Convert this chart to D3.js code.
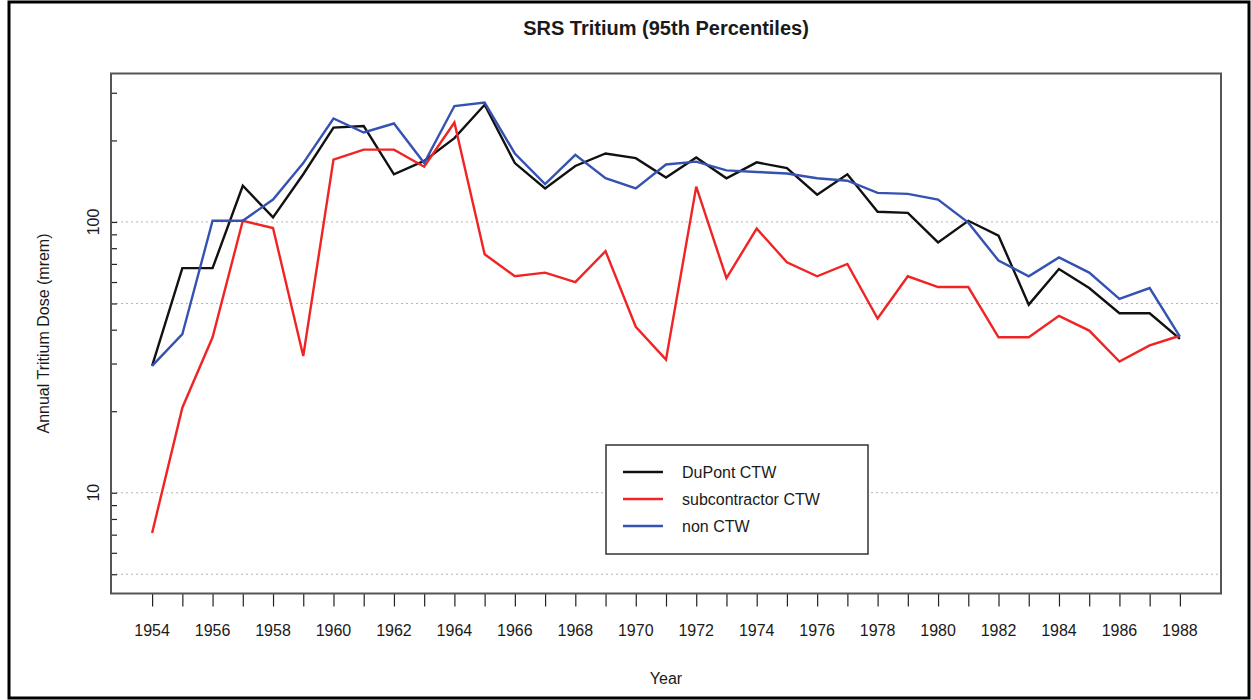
<!DOCTYPE html>
<html>
<head>
<meta charset="utf-8">
<script src="https://cdn.jsdelivr.net/npm/d3@7"></script>
<style>
  body { margin: 0; background: #fff; }
  text { font-family: "Liberation Sans", Arial, sans-serif; fill: #1a1a1a; }
</style>
</head>
<body>
<div class="chart"></div>
<script>
//data
var years = [1954, 1955, 1956, 1957, 1958, 1959, 1960, 1961, 1962, 1963, 1964, 1965,
  1966, 1967, 1968, 1969, 1970, 1971, 1972, 1973, 1974, 1975, 1976, 1977, 1978,
  1979, 1980, 1981, 1982, 1983, 1984, 1985, 1986, 1987, 1988];
var dupontCTW = [29.4, 67.5, 67.5, 136, 104, 150, 223, 226, 150, 168, 204, 271,
  165, 133, 161, 179, 172, 146, 173, 145, 166, 158, 126, 150, 109,
  108, 84, 101, 89, 49.5, 67, 57, 46, 46, 37];
var subcontractorCTW = [7.1, 20.6, 37.5, 101, 95, 32, 170, 185, 185, 160, 233, 76,
  63, 65, 60, 78, 41, 31, 135, 62, 94.5, 71, 63, 70, 44,
  63, 57.5, 57.5, 37.5, 37.5, 45, 39.7, 30.5, 35, 38];
var nonCTW = [29.4, 38.5, 101, 101, 121, 165, 241, 214, 231, 165, 268, 276,
  179, 138, 177, 145, 133, 163, 167, 155, 153, 151, 145, 142, 128,
  127, 121, 99.4, 72, 63, 74, 65, 52, 57, 37.7];
var seriesNames = ['DuPont CTW', 'subcontractor CTW', 'non CTW'];
var xLabelYears = [1954, 1956, 1958, 1960, 1962, 1964, 1966, 1968, 1970, 1972,
  1974, 1976, 1978, 1980, 1982, 1984, 1986, 1988];
var yTicks = [5, 6, 7, 8, 9, 10, 20, 30, 40, 50, 60, 70, 80, 90, 100, 200, 300];
var yLabelTicks = [10, 100];
var yGrid = [5, 10, 50, 100];
var yLimits = [5, 300];

var colors = ['#111111', '#f02424', '#3552b2'];

//canvas
var size = {'x' : 1251, 'y' : 700};
var box = {'left' : 111, 'right' : 1221, 'top' : 73.5, 'bottom' : 593.5};

var svg = d3.select('.chart')
  .append('svg')
    .attr('width', size.x)
    .attr('height', size.y);

//outer frame
svg.append('rect')
  .attr('x', 9)
  .attr('y', 2)
  .attr('width', 1240)
  .attr('height', 696)
  .attr('fill', 'none')
  .attr('stroke', '#000')
  .attr('stroke-width', 3);

//scales, padded like R does (4%)
var xPad = (years[years.length - 1] - years[0]) * 0.04;
var x = d3.scaleLinear()
  .domain([years[0] - xPad, years[years.length - 1] + xPad])
  .range([box.left, box.right]);

var logPad = (Math.log10(yLimits[1]) - Math.log10(yLimits[0])) * 0.04;
var y = d3.scaleLog()
  .domain([Math.pow(10, Math.log10(yLimits[0]) - logPad), Math.pow(10, Math.log10(yLimits[1]) + logPad)])
  .range([box.bottom, box.top]);

//grid lines
svg.selectAll('.grid')
  .data(yGrid)
  .enter()
  .append('line')
    .attr('class', 'grid')
    .attr('x1', box.left)
    .attr('x2', box.right)
    .attr('y1', function(d){ return y(d) })
    .attr('y2', function(d){ return y(d) })
    .attr('stroke', '#b5b5b5')
    .attr('stroke-width', 1)
    .attr('stroke-dasharray', '2,3');

//x axis
var xAxis = svg.append('g')
  .attr('transform', 'translate(0,' + box.bottom + ')')
  .call(d3.axisBottom(x).tickValues(years).tickSize(13).tickFormat(''));
xAxis.select('.domain').remove();
xAxis.selectAll('line').attr('stroke', '#222').attr('stroke-width', 1.2);

svg.selectAll('.xlab')
  .data(xLabelYears)
  .enter()
  .append('text')
    .attr('class', 'xlab')
    .attr('x', function(d){ return x(d) })
    .attr('y', 636)
    .attr('text-anchor', 'middle')
    .style('font-size', '16px')
    .text(function(d){ return d });

//y axis, ticks point inward
var yAxis = svg.append('g')
  .attr('transform', 'translate(' + box.left + ',0)')
  .call(d3.axisLeft(y).tickValues(yTicks).tickSize(-6).tickFormat(''));
yAxis.select('.domain').remove();
yAxis.selectAll('line').attr('stroke', '#222').attr('stroke-width', 1.2);

svg.selectAll('.ylab')
  .data(yLabelTicks)
  .enter()
  .append('text')
    .attr('class', 'ylab')
    .attr('transform', function(d){ return 'translate(99,' + y(d) + ') rotate(-90)' })
    .attr('text-anchor', 'middle')
    .style('font-size', '16px')
    .text(function(d){ return d });

//lines
var series = [dupontCTW, subcontractorCTW, nonCTW];
var line = d3.line()
  .x(function(d, i){ return x(years[i]) })
  .y(function(d){ return y(d) });

svg.selectAll('.series')
  .data(series)
  .enter()
  .append('path')
    .attr('class', 'series')
    .attr('d', line)
    .attr('fill', 'none')
    .attr('stroke', function(d, i){ return colors[i] })
    .attr('stroke-width', 2.4)
    .attr('stroke-linejoin', 'miter');

//plot box
svg.append('rect')
  .attr('x', box.left)
  .attr('y', box.top)
  .attr('width', box.right - box.left)
  .attr('height', box.bottom - box.top)
  .attr('fill', 'none')
  .attr('stroke', '#555')
  .attr('stroke-width', 2);

//legend
var legend = svg.append('g').attr('transform', 'translate(606,445)');
legend.append('rect')
  .attr('width', 262)
  .attr('height', 109)
  .attr('fill', '#fff')
  .attr('stroke', '#333')
  .attr('stroke-width', 1.5);

var items = legend.selectAll('.item')
  .data(seriesNames)
  .enter()
  .append('g')
    .attr('class', 'item')
    .attr('transform', function(d, i){ return 'translate(0,' + (27 + i * 27) + ')' });
items.append('line')
  .attr('x1', 17)
  .attr('x2', 57)
  .attr('stroke', function(d, i){ return colors[i] })
  .attr('stroke-width', 2.4);
items.append('text')
  .attr('x', 76)
  .attr('y', 6)
  .style('font-size', '16px')
  .text(function(d){ return d });

//titles
svg.append('text')
  .attr('x', (box.left + box.right) / 2)
  .attr('y', 35)
  .attr('text-anchor', 'middle')
  .style('font-size', '20px')
  .style('font-weight', 'bold')
  .text('SRS Tritium (95th Percentiles)');

svg.append('text')
  .attr('x', (box.left + box.right) / 2)
  .attr('y', 684)
  .attr('text-anchor', 'middle')
  .style('font-size', '16px')
  .text('Year');

svg.append('text')
  .attr('transform', 'translate(49,' + (box.top + box.bottom) / 2 + ') rotate(-90)')
  .attr('text-anchor', 'middle')
  .style('font-size', '16px')
  .text('Annual Tritium Dose (mrem)');
</script>
</body>
</html>
